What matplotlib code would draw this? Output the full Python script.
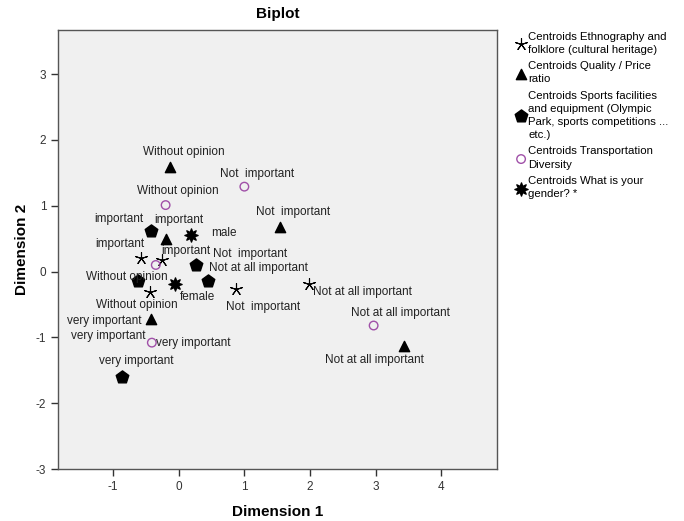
import matplotlib.pyplot as plt

plt.rcParams['font.family'] = ['Liberation Sans', 'DejaVu Sans']
plt.rcParams['axes.unicode_minus'] = False

# category centroids per variable (Dimension 1, Dimension 2)
ethno_x = [-0.58, -0.26, -0.44, 0.87, 1.99]
ethno_y = [0.21, 0.17, -0.31, -0.26, -0.19]
ethno_lab = ['important', 'important', 'Without opinion', 'Not  important', 'Not at all important']

quality_x = [-0.14, -0.20, -0.42, 1.54, 3.43]
quality_y = [1.59, 0.50, -0.72, 0.68, -1.13]
quality_lab = ['Without opinion', 'important', 'very important', 'Not  important', 'Not at all important']

sports_x = [-0.43, -0.62, 0.26, 0.44, -0.87]
sports_y = [0.61, -0.14, 0.10, -0.15, -1.60]
sports_lab = ['important', 'Without opinion', 'Not  important', 'Not at all important', 'very important']

transp_x = [1.00, -0.20, -0.35, -0.41, 2.97]
transp_y = [1.29, 1.01, 0.10, -1.08, -0.82]
transp_lab = ['Not  important', 'Without opinion', '', 'very important', 'Not at all important']

gender_x = [0.18, -0.06]
gender_y = [0.56, -0.19]
gender_lab = ['male', 'female']

fig = plt.figure(figsize=(6.84, 5.21), dpi=100)
ax = fig.add_axes([0.0848, 0.0998, 0.6418, 0.8426])
ax.set_facecolor('#f0f0f0')

h1 = ax.scatter(ethno_x, ethno_y, marker=(5, 2, 0), s=75, c='black', linewidths=0.8, zorder=3)
h2 = ax.scatter(quality_x, quality_y, marker='^', s=55, c='black', zorder=3)
h3 = ax.scatter(sports_x, sports_y, marker='p', s=90, c='black', zorder=3)
h4 = ax.scatter(transp_x, transp_y, marker='o', s=38, facecolors='none',
                edgecolors='#a050a8', linewidths=1.0, zorder=3)
h5 = ax.scatter(gender_x, gender_y, marker=(8, 1, 0), s=90, c='black', zorder=3)

# label placement: (dx, dy) in pixels, horizontal alignment
def put(xs, ys, labs, offs):
    for x, y, t, (dx, dy, ha) in zip(xs, ys, labs, offs):
        if t:
            ax.annotate(t, (x, y), xytext=(dx, dy), textcoords='offset pixels',
                        ha=ha, va='center', fontsize=8.5, color='#222222', zorder=4)

put(ethno_x, ethno_y, ethno_lab,
    [(-21, 14, 'center'), (0, 9, 'left'), (-13, -13, 'center'),
     (27, -18, 'center'), (4, -8, 'left')])
put(quality_x, quality_y, quality_lab,
    [(14, 15, 'center'), (13, 19, 'center'), (-10, -2, 'right'),
     (13, 15, 'center'), (-29, -14, 'center')])
put(sports_x, sports_y, sports_lab,
    [(-7, 12, 'right'), (-11, 4, 'center'), (17, 11, 'left'),
     (1, 13, 'left'), (15, 16, 'center')])
put(transp_x, transp_y, transp_lab,
    [(13, 13, 'center'), (12, 14, 'center'), (0, 0, 'center'),
     (4, 0, 'left'), (27, 13, 'center')])
# second tag for the lower transportation centroid
ax.annotate(transp_lab[3], (transp_x[3], transp_y[3]), xytext=(-6, 7),
            textcoords='offset pixels', ha='right', va='center',
            fontsize=8.5, color='#222222', zorder=4)
put(gender_x, gender_y, gender_lab,
    [(21, 2, 'left'), (23, -13, 'center')])

ax.set_xlim(-1.84, 4.85)
ax.set_ylim(-3, 3.67)
ax.set_xticks([-1, 0, 1, 2, 3, 4])
ax.set_yticks([-3, -2, -1, 0, 1, 2, 3])
ax.tick_params(direction='out', length=5, width=1, labelsize=8.5, colors='#333333')
for s in ax.spines.values():
    s.set_color('#555555')
    s.set_linewidth(1)

ax.set_title('Biplot', fontsize=11, fontweight='bold', pad=9)
ax.set_xlabel('Dimension 1', fontsize=11, fontweight='bold', labelpad=9)
ax.set_ylabel('Dimension 2', fontsize=11, fontweight='bold', labelpad=5)

leg = fig.legend([h1, h2, h3, h4, h5],
                 ['Centroids Ethnography and\nfolklore (cultural heritage)',
                  'Centroids Quality / Price\nratio',
                  'Centroids Sports facilities\nand equipment (Olympic\nPark, sports competitions ...\netc.)',
                  'Centroids Transportation\nDiversity',
                  'Centroids What is your\ngender? *'],
                 loc='upper left', bbox_to_anchor=(0.746, 0.948), frameon=False,
                 fontsize=8.2, handletextpad=0.1, handlelength=1.1, labelspacing=0.55,
                 borderaxespad=0)
for t in leg.get_texts():
    t.set_linespacing(1.4)

fig.savefig('out.png', dpi=100)
